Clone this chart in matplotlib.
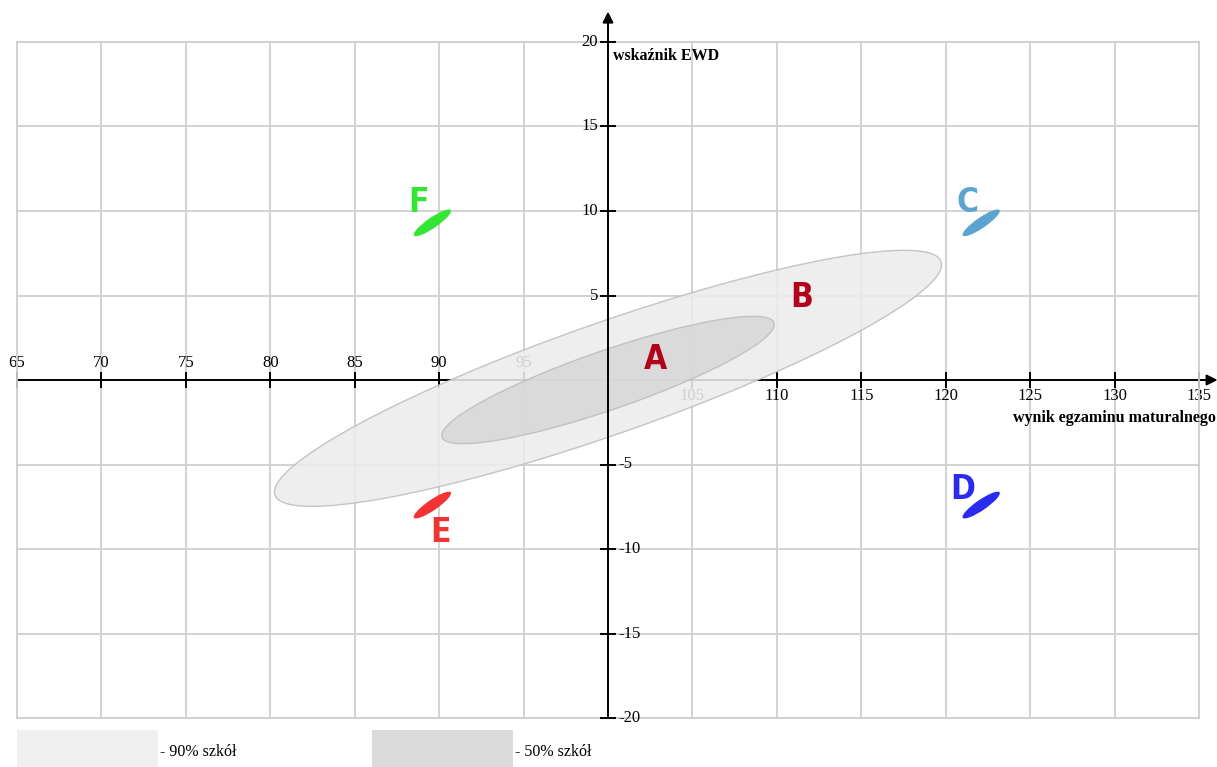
import matplotlib
matplotlib.use("Agg")
import matplotlib.pyplot as plt
from matplotlib.patches import Ellipse, Rectangle

# axis ticks
x_ticks = [65, 70, 75, 80, 85, 90, 95, 100, 105, 110, 115, 120, 125, 130, 135]
y_ticks = [-20, -15, -10, -5, 0, 5, 10, 15, 20]

# grey bands: centre, width, height, angle
band_names = ["90% szkół", "50% szkół"]
band_cx = [100.0, 100.0]
band_cy = [0.1, 0.0]
band_w = [41.8, 20.8]
band_h = [6.6, 3.5]
band_angle = [19.3, 19.0]

# school groups
grp_names = ["C", "D", "E", "F"]
grp_cx = [122.1, 122.1, 89.6, 89.6]
grp_cy = [9.3, -7.4, -7.4, 9.3]
grp_w = [2.65, 2.65, 2.65, 2.65]
grp_h = [0.62, 0.62, 0.62, 0.62]
grp_angle = [34.5, 34.5, 34.5, 34.5]

# letter labels
lab_text = ["A", "B", "C", "D", "E", "F"]
lab_x = [102.8, 111.5, 121.3, 121.0, 90.1, 88.8]
lab_y = [1.2, 4.9, 10.5, -6.5, -9.0, 10.5]
lab_col = ["#b3001b", "#b3001b", "#5ba4cf", "#2b2bf0", "#f23333", "#33e633"]
grp_col = ["#5ba4cf", "#2b2bf0", "#f23333", "#33e633"]

W, H = 1217, 767
fig = plt.figure(figsize=(W / 100, H / 100), dpi=100)
ax = fig.add_axes([17 / W, (H - 718) / H, 1182 / W, 676 / H])
ax.set_xlim(65, 135)
ax.set_ylim(-20, 20)
ax.set_xticks(x_ticks)
ax.set_yticks(y_ticks)
ax.tick_params(length=0, labelbottom=False, labelleft=False)
ax.grid(True, color="#cfcfcf", lw=1.3, zorder=0)
ax.set_axisbelow(True)
for s in ax.spines.values():
    s.set_color("#cfcfcf")
    s.set_linewidth(1.3)

serif = ["Liberation Serif", "DejaVu Serif"]

# x axis (under the bands)
ax.annotate("", xy=(136.1, 0), xytext=(65, 0), annotation_clip=False,
            arrowprops=dict(arrowstyle="-|>", color="k", lw=1.4, mutation_scale=16,
                            shrinkA=0, shrinkB=0), zorder=2)
xt = [v for v in x_ticks if v != 100]
ax.plot(xt, [0] * len(xt), ls="none", marker="|", ms=11, mew=1.4, color="k",
        clip_on=False, zorder=2)
for v in xt:
    if v < 100:
        ax.text(v, 0.55, str(v), ha="center", va="bottom", fontsize=12,
                family=serif, zorder=2)
    else:
        ax.text(v, -0.5, str(v), ha="center", va="top", fontsize=12,
                family=serif, zorder=2)

# grey bands
band_face = ["#ececec", "#d8d8d8"]
for i in range(len(band_names)):
    ax.add_patch(Ellipse((band_cx[i], band_cy[i]), band_w[i], band_h[i],
                         angle=band_angle[i], facecolor=band_face[i], alpha=0.88,
                         edgecolor="#bdbdbd", lw=1.0, zorder=3))

# y axis (over the bands)
ax.annotate("", xy=(100, 21.8), xytext=(100, -20), annotation_clip=False,
            arrowprops=dict(arrowstyle="-|>", color="k", lw=1.4, mutation_scale=16,
                            shrinkA=0, shrinkB=0), zorder=4)
yt = [v for v in y_ticks if v != 0]
ax.plot([100] * len(yt), yt, ls="none", marker="_", ms=11, mew=1.4, color="k",
        clip_on=False, zorder=4)
for v in yt:
    if v > 0:
        ax.text(99.4, v, str(v), ha="right", va="center", fontsize=12,
                family=serif, zorder=4)
    else:
        ax.text(100.6, v, str(v), ha="left", va="center", fontsize=12,
                family=serif, zorder=4)

ax.text(100.3, 19.2, "wskaźnik EWD", ha="left", va="center", fontsize=11.5,
        fontweight="bold", family=serif, zorder=4)
ax.text(136.0, -2.25, "wynik egzaminu maturalnego", ha="right", va="center",
        fontsize=11.5, fontweight="bold", family=serif, zorder=4, clip_on=False)

# school groups
for i in range(len(grp_names)):
    ax.add_patch(Ellipse((grp_cx[i], grp_cy[i]), grp_w[i], grp_h[i],
                         angle=grp_angle[i], facecolor=grp_col[i],
                         edgecolor="none", zorder=5))

for i in range(len(lab_text)):
    ax.text(lab_x[i], lab_y[i], lab_text[i], ha="center", va="center",
            fontsize=24, fontweight="bold", family="DejaVu Sans",
            fontstretch="condensed", color=lab_col[i], zorder=6)

# legend below the chart
leg_x = [17, 372]
leg_face = ["#efefef", "#dadada"]
for i in range(len(band_names)):
    fig.add_artist(Rectangle((leg_x[i] / W, 0), 141 / W, (H - 730) / H,
                             transform=fig.transFigure, facecolor=leg_face[i],
                             edgecolor="none"))
    fig.text((leg_x[i] + 143) / W, (H - 752) / H, "- " + band_names[i],
             ha="left", va="center", fontsize=11.5, family=serif)

fig.savefig("out.png", dpi=100)
